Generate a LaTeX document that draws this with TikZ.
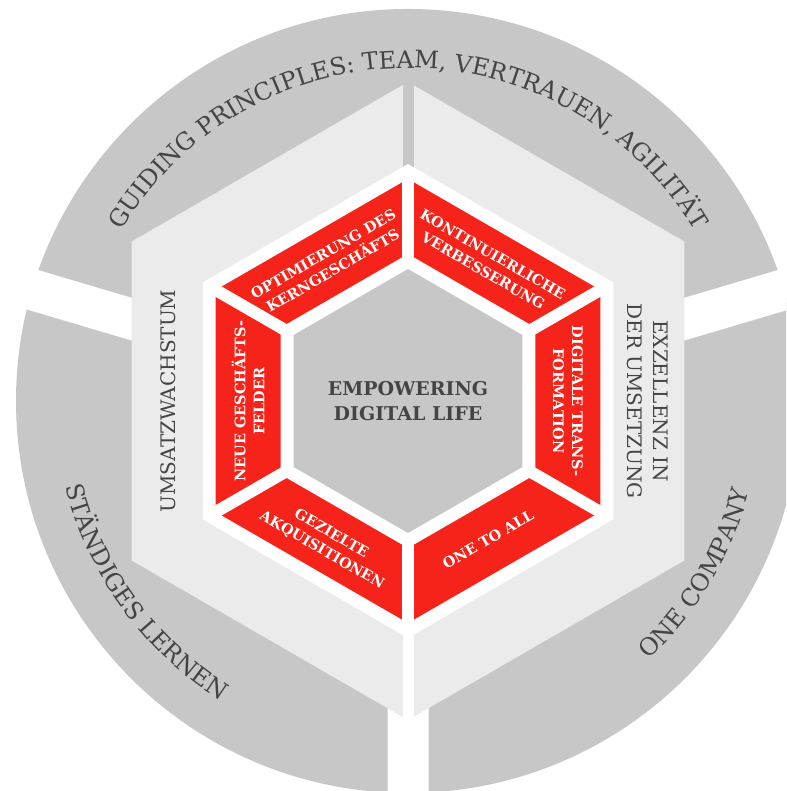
\documentclass[tikz,border=0pt]{standalone}
\usepackage{fontspec}
\setmainfont{DejaVu Serif}
\usepackage{xcolor}
\usepackage{tikz}
\usetikzlibrary{decorations.text}
\definecolor{ringgray}{RGB}{198,199,198}
\definecolor{facegray}{RGB}{235,235,235}
\definecolor{corered}{RGB}{245,35,25}
\definecolor{labelgray}{RGB}{68,68,68}
\newcommand{\hexfill}[2]{\fill[#1] (90:#2) -- (150:#2) -- (210:#2) -- (270:#2) -- (330:#2) -- (30:#2) -- cycle;}
\newcommand{\arcfont}{\fontsize{24}{28}\selectfont\color{labelgray}}

\begin{document}
\begin{tikzpicture}[x=1pt,y=1pt,
                    redlabel/.style={text=white,align=center,inner sep=0pt,
                                     font=\bfseries\fontsize{14.5}{19}\selectfont},
                    sidelabel/.style={text=labelgray,align=center,inner sep=0pt,
                                      font=\fontsize{20}{26}\selectfont},
                    arclabel/.style={decorate,decoration={text along path,
                                     text align=center,text={|\arcfont|#1}}}]
\useasboundingbox (-408,-390) rectangle (378,401);
\clip (-408,-390) rectangle (378,401);
% outer ring, cut in three
\fill[ringgray] (0,0) circle (392);
\draw[white,line width=41pt] (0,0) -- (163.5:430)
                             (0,0) -- (16.5:430)
                             (0,0) -- (270:430);
% light hexagon, cut in two
\hexfill{facegray}{319}
\draw[ringgray,line width=11pt] (0,0) -- (90:330);
\draw[white,line width=11pt] (0,0) -- (270:330);
% red ring
\hexfill{white}{237}
\hexfill{corered}{222}
\hexfill{white}{147}
\foreach \a in {30,90,...,330}
  \draw[white,line width=12pt] (0,0) -- (\a:230);
\hexfill{ringgray}{132}
\node[text=labelgray,align=center,font=\bfseries\fontsize{19}{25}\selectfont] (empower) at (0,0) {EMPOWERING\\DIGITAL LIFE};
\node[redlabel,rotate=30] (optim) at (120:160) {OPTIMIERUNG DES\\KERNGESCHÄFTS};
\node[redlabel,rotate=-30] (kontin) at (60:160) {KONTINUIERLICHE\\VERBESSERUNG};
\node[redlabel,rotate=-90] (digital) at (0:160) {DIGITALE TRANS-\\FORMATION};
\node[redlabel,rotate=30] (onetoall) at (300:160) {ONE TO ALL};
\node[redlabel,rotate=-30] (gezielt) at (240:163) {GEZIELTE\\AKQUISITIONEN};
\node[redlabel,rotate=90] (neue) at (180:160) {NEUE GESCHÄFTS-\\FELDER};
\node[sidelabel,rotate=90] (umsatz) at (-240,0) {UMSATZWACHSTUM};
\node[sidelabel,rotate=-90] (exzell) at (240,0) {EXZELLENZ IN\\DER UMSETZUNG};
% texts along the ring
\path[arclabel={GUIDING PRINCIPLES: TEAM, VERTRAUEN, AGILITÄT}] (175:333) arc[start angle=175,end angle=5,radius=333];
\path[arclabel={STÄNDIGES LERNEN}] (176:353) arc[start angle=176,end angle=256,radius=353];
\path[arclabel={ONE COMPANY}] (289:353) arc[start angle=289,end angle=369,radius=353];
\end{tikzpicture}
\end{document}
